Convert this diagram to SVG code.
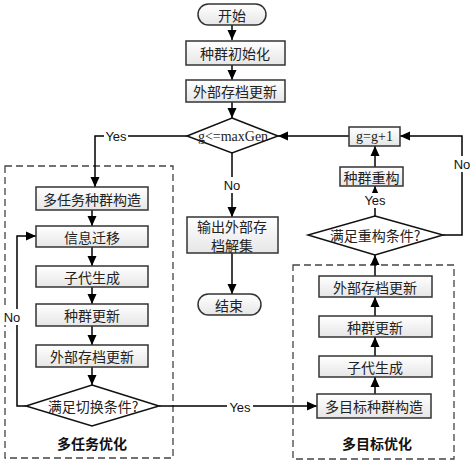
<svg xmlns="http://www.w3.org/2000/svg" width="474" height="466" viewBox="0 0 474 466">
<defs>
<linearGradient id="g" x1="0" y1="0" x2="0" y2="1">
<stop offset="0" stop-color="#ffffff"/>
<stop offset="1" stop-color="#e6e6e6"/>
</linearGradient>
<marker id="a" viewBox="0 0 10 10" refX="10" refY="5" markerWidth="10" markerHeight="10" markerUnits="userSpaceOnUse" orient="auto">
<path d="M0,0.5 L10,5 L0,9.5 z" fill="#000"/>
</marker>
</defs>
<style>
.b{fill:url(#g);stroke:#333;stroke-width:1.5}
.d{fill:#fff;stroke:#111;stroke-width:1.5}
.t{font-family:"Noto Sans CJK SC",sans-serif;font-size:14px;fill:#222;text-anchor:middle;dominant-baseline:central}
.s{font-family:"Liberation Serif",serif;font-size:14px;fill:#222;text-anchor:middle;dominant-baseline:central}
.l{font-family:"Liberation Sans",Arial,sans-serif;font-size:13px;fill:#111;text-anchor:middle;dominant-baseline:central}
.h{font-family:"Noto Sans CJK SC",sans-serif;font-size:14px;font-weight:bold;fill:#111;text-anchor:middle;dominant-baseline:central}
.c{fill:none;stroke:#000;stroke-width:1.5}
.dash{fill:none;stroke:#444;stroke-width:1.3;stroke-dasharray:7,4}
</style>
<g id="groups">
<rect class="dash" x="5" y="166" width="168" height="292"/>
<rect class="dash" x="293" y="265" width="161" height="194"/>
</g>
<g id="connectors">
<path class="c" d="M232,25 V40" marker-end="url(#a)"/>
<path class="c" d="M232,65 V80" marker-end="url(#a)"/>
<path class="c" d="M232,102 V118" marker-end="url(#a)"/>
<path class="c" d="M187,136 H95 V187" marker-end="url(#a)"/>
<path class="c" d="M232,153 V217" marker-end="url(#a)"/>
<path class="c" d="M232,253 V294" marker-end="url(#a)"/>
<path class="c" d="M92,210 V226" marker-end="url(#a)"/>
<path class="c" d="M92,247 V266" marker-end="url(#a)"/>
<path class="c" d="M92,287 V304" marker-end="url(#a)"/>
<path class="c" d="M92,326 V345" marker-end="url(#a)"/>
<path class="c" d="M92,367 V385" marker-end="url(#a)"/>
<path class="c" d="M26,406 H17 V236 H36" marker-end="url(#a)"/>
<path class="c" d="M159,406 H317" marker-end="url(#a)"/>
<path class="c" d="M375,394 V377" marker-end="url(#a)"/>
<path class="c" d="M375,356 V337" marker-end="url(#a)"/>
<path class="c" d="M375,316 V297" marker-end="url(#a)"/>
<path class="c" d="M375,276 V255" marker-end="url(#a)"/>
<path class="c" d="M375,216 V186" marker-end="url(#a)"/>
<path class="c" d="M375,167 V146" marker-end="url(#a)"/>
<path class="c" d="M349,136 H278" marker-end="url(#a)"/>
<path class="c" d="M443,235 H462 V136 H400" marker-end="url(#a)"/>
<rect x="104" y="128" width="24" height="15" fill="#fff"/>
<text class="l" x="116" y="136">Yes</text>
<rect x="222" y="177" width="20" height="16" fill="#fff"/>
<text class="l" x="232" y="185">No</text>
<rect x="2" y="309" width="22" height="16" fill="#fff"/>
<text class="l" x="12" y="317">No</text>
<rect x="227" y="399" width="26" height="15" fill="#fff"/>
<text class="l" x="240" y="407">Yes</text>
<rect x="363" y="193" width="24" height="15" fill="#fff"/>
<text class="l" x="375" y="200">Yes</text>
<rect x="452" y="156" width="20" height="16" fill="#fff"/>
<text class="l" x="462" y="164">No</text>
</g>
<g id="start"><rect class="b" x="198" y="4" width="68" height="21" rx="10.5"/><text class="t" x="232" y="14.5">开始</text></g>
<g id="init"><rect class="b" x="186" y="41" width="99" height="24"/><text class="t" x="235" y="53">种群初始化</text></g>
<g id="archive1"><rect class="b" x="186" y="80" width="99" height="22"/><text class="t" x="235" y="91">外部存档更新</text></g>
<g id="cond-gen"><polygon class="d" points="232,118 278,136 232,153 187,136"/><text class="s" x="233" y="136">g&lt;=maxGen</text></g>
<g id="output"><rect class="b" x="187" y="217" width="91" height="36"/><text class="t" x="232" y="226">输出外部存</text><text class="t" x="232" y="245">档解集</text></g>
<g id="end"><rect class="b" x="198" y="294" width="63" height="21" rx="10.5"/><text class="t" x="229" y="304.5">结束</text></g>
<g id="mt-construct"><rect class="b" x="36" y="187" width="112" height="23"/><text class="t" x="92" y="198.5">多任务种群构造</text></g>
<g id="transfer"><rect class="b" x="36" y="226" width="112" height="21"/><text class="t" x="92" y="236.5">信息迁移</text></g>
<g id="offspring1"><rect class="b" x="36" y="266" width="112" height="21"/><text class="t" x="92" y="276.5">子代生成</text></g>
<g id="pop-update1"><rect class="b" x="36" y="304" width="112" height="22"/><text class="t" x="92" y="315">种群更新</text></g>
<g id="archive2"><rect class="b" x="36" y="345" width="112" height="22"/><text class="t" x="92" y="356">外部存档更新</text></g>
<g id="cond-switch"><polygon class="d" points="92,385 159,406 92,426 26,406"/><text class="t" x="93" y="406">满足切换条件?</text></g>
<text class="h" x="92" y="443">多任务优化</text>
<g id="mo-construct"><rect class="b" x="317" y="394" width="114" height="24"/><text class="t" x="374" y="406">多目标种群构造</text></g>
<g id="offspring2"><rect class="b" x="319" y="356" width="113" height="21"/><text class="t" x="375" y="366.5">子代生成</text></g>
<g id="pop-update2"><rect class="b" x="319" y="316" width="113" height="21"/><text class="t" x="375" y="326.5">种群更新</text></g>
<g id="archive3"><rect class="b" x="319" y="276" width="113" height="21"/><text class="t" x="375" y="286.5">外部存档更新</text></g>
<text class="h" x="377" y="443">多目标优化</text>
<g id="cond-rebuild"><polygon class="d" points="375,216 443,235 375,255 308,235"/><text class="t" x="375" y="235">满足重构条件?</text></g>
<g id="rebuild"><rect class="b" x="340" y="167" width="63" height="19"/><text class="t" x="371.5" y="176.5">种群重构</text></g>
<g id="inc"><rect class="b" x="349" y="127" width="51" height="19"/><text class="s" x="374.5" y="136.5">g=g+1</text></g>
</svg>
